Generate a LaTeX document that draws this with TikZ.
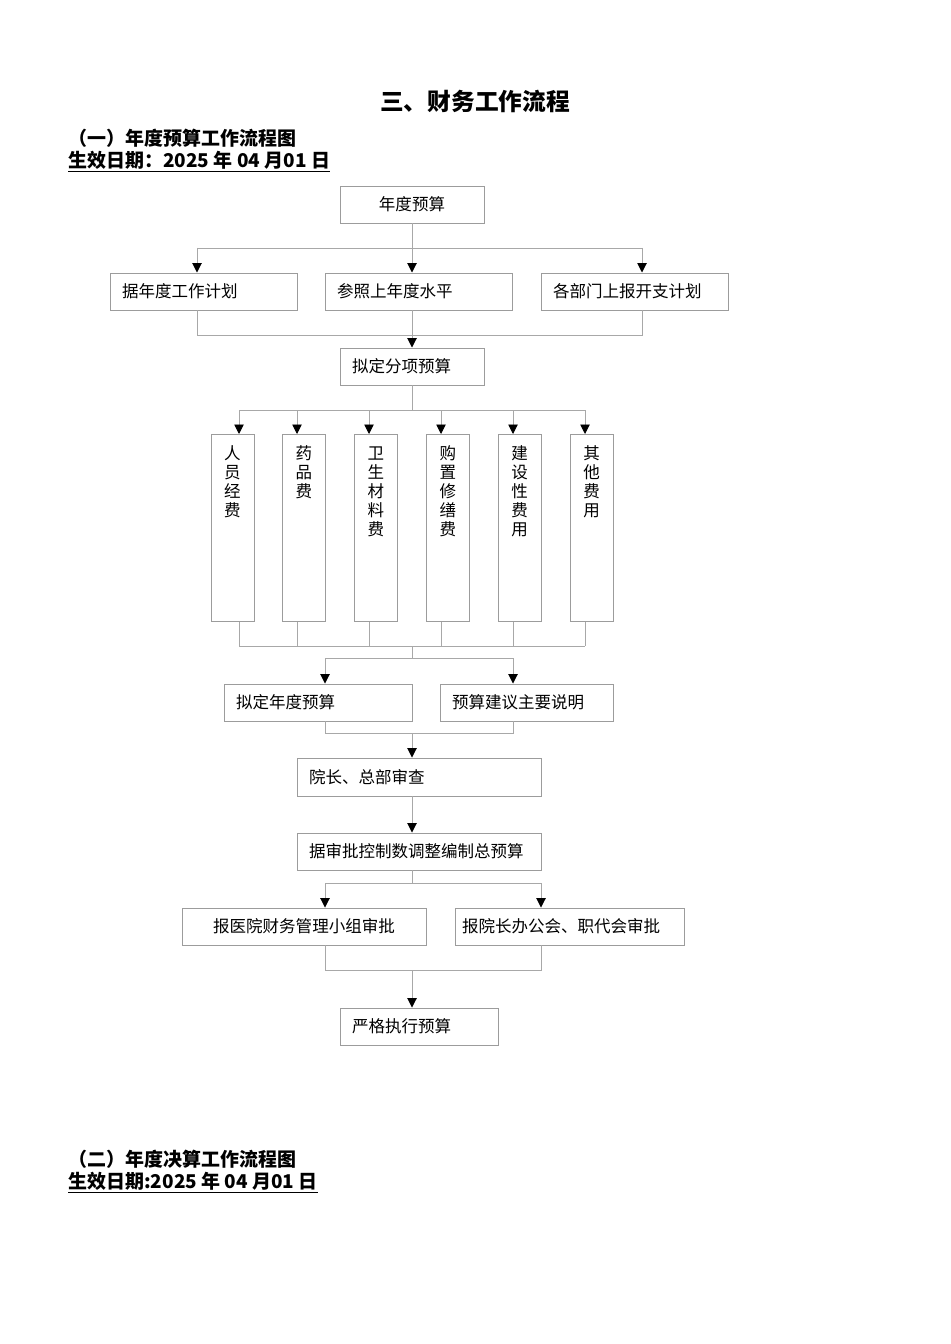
\documentclass[tikz,border=0pt]{standalone}
\usepackage{fontspec}
\setmainfont{Noto Sans CJK SC}
\usetikzlibrary{arrows.meta}
\definecolor{boxgray}{HTML}{9C9C9C}
\definecolor{linegray}{HTML}{A8A8A8}
\tikzset{
  box/.style={draw=boxgray, line width=0.55pt, minimum height=0.74cm, inner xsep=0.24cm, inner ysep=0pt, text width=#1, align=left, font=\fontsize{9.4}{10.8}\selectfont},
  tallbox/.style={draw=boxgray, line width=0.55pt, anchor=north, inner xsep=0.18cm, inner ysep=0pt, text width=0.5cm, align=center, text height=0.5cm, text depth=3.24cm, font=\fontsize{9.4}{10.8}\selectfont},
  line/.style={draw=linegray, line width=0.55pt},
  arr/.style={line, -{Triangle[length=0.19cm, width=0.19cm, color=black]}},
  heading/.style={anchor=west, inner sep=0pt, font=\fontsize{10.8}{13}\selectfont\bfseries},
}
\begin{document}
\begin{tikzpicture}[x=0.02cm, y=-0.02cm]
    \useasboundingbox[fill=white] (0,0) rectangle (950,1344);
    % headings
    \node[font=\fontsize{13.5}{16}\selectfont\bfseries] (title) at (475,101) {三、财务工作流程};
    \node[heading] (head1) at (68,138) {（一）年度预算工作流程图};
    \node[heading] (date1) at (68,162) {\underline{生效日期：2025 年 04 月01 日}};
    \node[heading] (head2) at (68,1159) {（二）年度决算工作流程图};
    \node[heading] (date2) at (68,1183) {\underline{生效日期:2025 年 04 月01 日}};
    % boxes
    \node[box=2.4cm, align=center] (top) at (412,204.5) {年度预算};
    \node[box=3.26cm] (plan) at (203.5,291.5) {据年度工作计划};
    \node[box=3.26cm] (last) at (418.5,291.5) {参照上年度水平};
    \node[box=3.26cm] (dept) at (634.5,291.5) {各部门上报开支计划};
    \node[box=2.4cm] (item) at (412,366.5) {拟定分项预算};
    \node[box=3.28cm] (draft) at (318,702.5) {拟定年度预算};
    \node[box=2.98cm] (note) at (526.5,702.5) {预算建议主要说明};
    \node[box=4.4cm, minimum height=0.76cm] (review) at (419,777) {院长、总部审查};
    \node[box=4.4cm] (total) at (419,851.5) {据审批控制数调整编制总预算};
    \node[box=4.4cm, align=center] (grp) at (304,926.5) {报医院财务管理小组审批};
    \node[box=4.3cm, inner xsep=0.14cm] (mtg) at (569.5,926.5) {报院长办公会、职代会审批};
    \node[box=2.68cm] (exec) at (419,1026.5) {严格执行预算};
    % first split
    \coordinate (s1l) at (197,248);
    \coordinate (s1r) at (642,248);
    \draw[line] (top.south) -- (top.south |- s1l);
    \draw[line] (s1l) -- (s1r);
    \draw[arr] (s1l) -- (s1l |- plan.north);
    \draw[arr] (top.south |- s1l) -- (top.south |- last.north);
    \draw[arr] (s1r) -- (s1r |- dept.north);
    \coordinate (m1l) at (197,335);
    \coordinate (m1r) at (642,335);
    \draw[line] (m1l |- plan.south) -- (m1l) -- (m1r) -- (m1r |- dept.south);
    \draw[arr] (top.south |- last.south) -- (top.south |- item.north);
    % cost items
    \foreach \cx/\ax/\txt [count=\i] in {232.5/239/{人\\员\\经\\费}, 304/297/{药\\品\\费}, 376/369/{卫\\生\\材\\料\\费}, 448/441/{购\\置\\修\\缮\\费}, 519.5/513/{建\\设\\性\\费\\用}, 591.5/585/{其\\他\\费\\用}} {
        \node[tallbox] (c\i) at (\cx,434) {\txt};
        \coordinate (ca\i) at (\ax,410);
        \coordinate (cb\i) at (\ax,646);
        \draw[arr] (ca\i) -- (ca\i |- c\i.north);
        \draw[line] (cb\i |- c\i.south) -- (cb\i);
    }
    \draw[line] (item.south) -- (item.south |- ca1);
    \draw[line] (ca1) -- (ca6);
    \draw[line] (cb1) -- (cb6);
    \coordinate (m2l) at (325,658);
    \coordinate (m2r) at (513,658);
    \draw[line] (top.south |- cb1) -- (top.south |- m2l);
    \draw[line] (m2l) -- (m2r);
    \draw[arr] (m2l) -- (m2l |- draft.north);
    \draw[arr] (m2r) -- (m2r |- note.north);
    % review
    \coordinate (m3l) at (325,733);
    \coordinate (m3r) at (513,733);
    \draw[line] (m3l |- draft.south) -- (m3l) -- (m3r) -- (m3r |- note.south);
    \draw[arr] (top.south |- m3l) -- (top.south |- review.north);
    \draw[arr] (top.south |- review.south) -- (top.south |- total.north);
    % approval
    \coordinate (m4l) at (325,883);
    \coordinate (m4r) at (541,883);
    \draw[line] (top.south |- total.south) -- (top.south |- m4l);
    \draw[line] (m4l) -- (m4r);
    \draw[arr] (m4l) -- (m4l |- grp.north);
    \draw[arr] (m4r) -- (m4r |- mtg.north);
    \coordinate (m5l) at (325,970);
    \coordinate (m5r) at (541,970);
    \draw[line] (m5l |- grp.south) -- (m5l) -- (m5r) -- (m5r |- mtg.south);
    \draw[arr] (top.south |- m5l) -- (top.south |- exec.north);
\end{tikzpicture}
\end{document}
